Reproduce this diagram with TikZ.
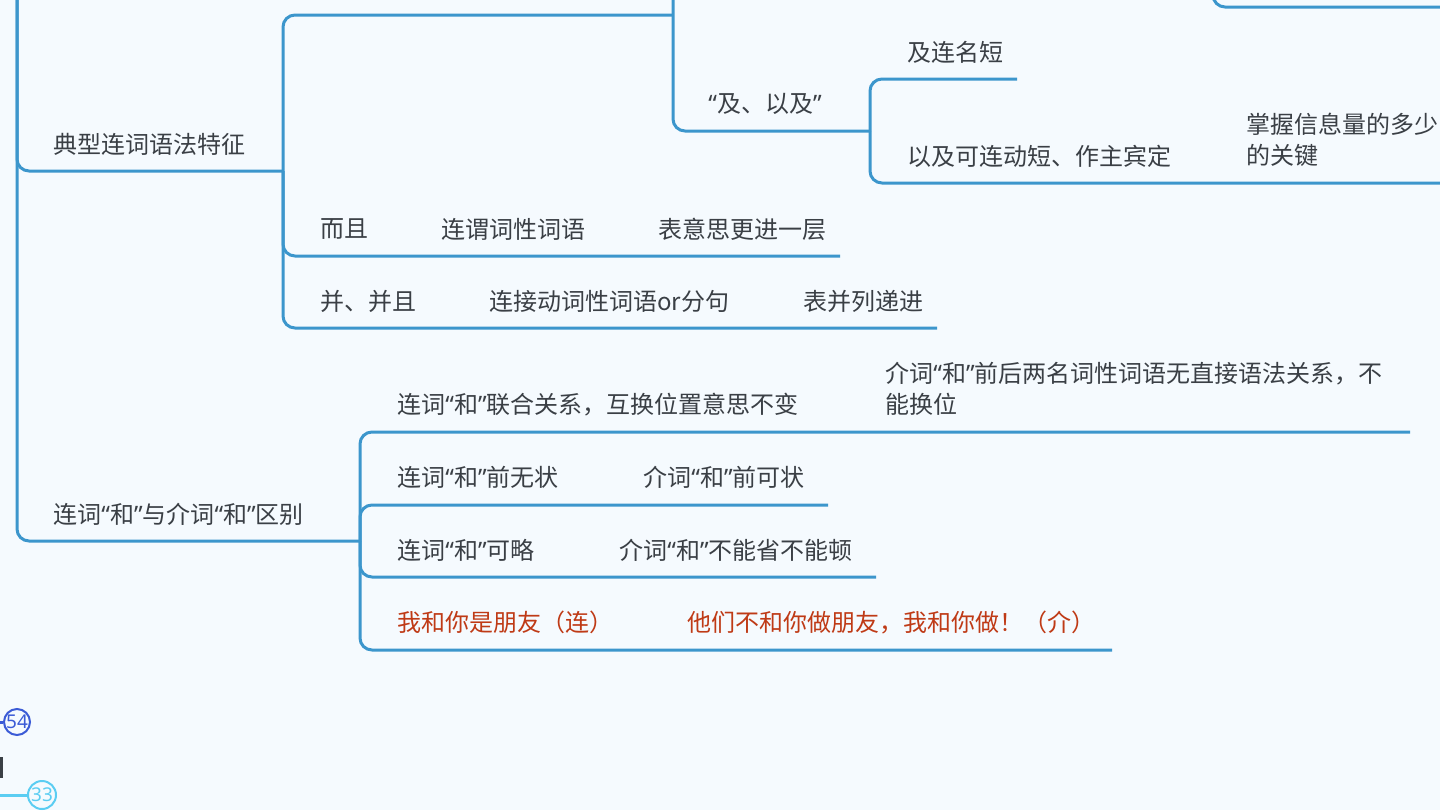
\documentclass[tikz,border=0pt]{standalone}
\usepackage{fontspec}
\newfontfamily\cjk{Noto Sans CJK SC}
\newfontfamily\latq{Noto Sans}
\newcommand{\myoq}{{\latq “}}
\newcommand{\mycq}{{\latq ”}}
\definecolor{bgc}{HTML}{F5FAFE}
\definecolor{lineblue}{HTML}{3C96CC}
\definecolor{textgray}{HTML}{3A3F45}
\definecolor{redtext}{HTML}{BF3A16}
\definecolor{darkblue}{HTML}{3B5BD6}
\definecolor{cyanc}{HTML}{5BCDF2}
\begin{document}
\begin{tikzpicture}[x=0.5pt,y=-0.5pt,
  txt/.style={anchor=west,inner sep=0pt,font=\cjk\fontsize{12}{15.5}\selectfont,text=textgray,align=left},
  redtxt/.style={txt,text=redtext},
  conn/.style={draw=lineblue,line width=1.5pt,rounded corners=6pt},
  badge/.style={circle,draw,line width=1pt,minimum size=13pt,inner sep=0pt,font=\latq\fontsize{9.5}{10}\selectfont,fill=bgc}]
\fill[bgc] (0,0) rectangle (1440,810);
\useasboundingbox (0,0) rectangle (1440,810);

% junction coordinates
\coordinate (top0) at (17,-10);
\coordinate (j1) at (283,171);
\coordinate (j2) at (360,541);
\coordinate (top1) at (673,-10);
\coordinate (j3) at (673,15);
\coordinate (j4) at (870,131);
\coordinate (top2) at (1213,-10);
\coordinate (e0) at (1450,7);
\coordinate (e1) at (840,256);
\coordinate (e2) at (937,328);
\coordinate (e3) at (1017,79);
\coordinate (e4) at (1450,183);
\coordinate (e5) at (1410,432);
\coordinate (e6) at (828,505);
\coordinate (e7) at (876,577);
\coordinate (e8) at (1112,650);

% connectors
\draw[conn] (top0) |- (j1);
\draw[conn] (top0) |- (j2);
\draw[conn] (j1) |- (j3);
\draw[conn] (j1) |- (e1);
\draw[conn] (j1) |- (e2);
\draw[conn] (top1) |- (j4);
\draw[conn] (j4) |- (e3);
\draw[conn] (j4) |- (e4);
\draw[conn] (top2) |- (e0);
\draw[conn] (j2) |- (e5);
\draw[conn] (j2) |- (e6);
\draw[conn] (j2) |- (e7);
\draw[conn] (j2) |- (e8);

% texts
\node[txt] (t1) at (53,144) {典型连词语法特征};
\node[txt] (t2) at (320,229) {而且};
\node[txt] (t3) at (441,229) {连谓词性词语};
\node[txt] (t4) at (658,229) {表意思更进一层};
\node[txt] (t5) at (320,301) {并、并且};
\node[txt] (t6) at (489,301) {连接动词性词语or分句};
\node[txt] (t7) at (803,301) {表并列递进};
\node[txt] (t8) at (708,104) {\myoq 及、以及\mycq};
\node[txt] (t9) at (907,52) {及连名短};
\node[txt] (t10) at (907,156) {以及可连动短、作主宾定};
\node[txt] (t11) at (1246,140) {掌握信息量的多少\\的关键};
\node[txt] (t12) at (53,514) {连词\myoq 和\mycq 与介词\myoq 和\mycq 区别};
\node[txt] (t13) at (397,405) {连词\myoq 和\mycq 联合关系，互换位置意思不变};
\node[txt] (t14) at (885,389) {介词\myoq 和\mycq 前后两名词性词语无直接语法关系，不\\能换位};
\node[txt] (t15) at (397,477) {连词\myoq 和\mycq 前无状};
\node[txt] (t16) at (643,477) {介词\myoq 和\mycq 前可状};
\node[txt] (t17) at (397,550) {连词\myoq 和\mycq 可略};
\node[txt] (t18) at (619,550) {介词\myoq 和\mycq 不能省不能顿};
\node[redtxt] (t19) at (397,622) {我和你是朋友（连）};
\node[redtxt] (t20) at (687,622) {他们不和你做朋友，我和你做！（介）};

% bottom-left badges
\coordinate (b1s) at (-5,722);
\node[badge,draw=darkblue,text=darkblue] (b1) at (17,722) {54};
\draw[darkblue,line width=1.5pt] (b1s) -- (b1);
\fill[textgray] (0,757) rectangle (2.5,778);
\coordinate (b2s) at (-5,795);
\node[badge,draw=cyanc,text=cyanc,minimum size=14pt] (b2) at (42,795) {33};
\draw[cyanc,line width=1.5pt] (b2s) -- (b2);
\end{tikzpicture}
\end{document}
